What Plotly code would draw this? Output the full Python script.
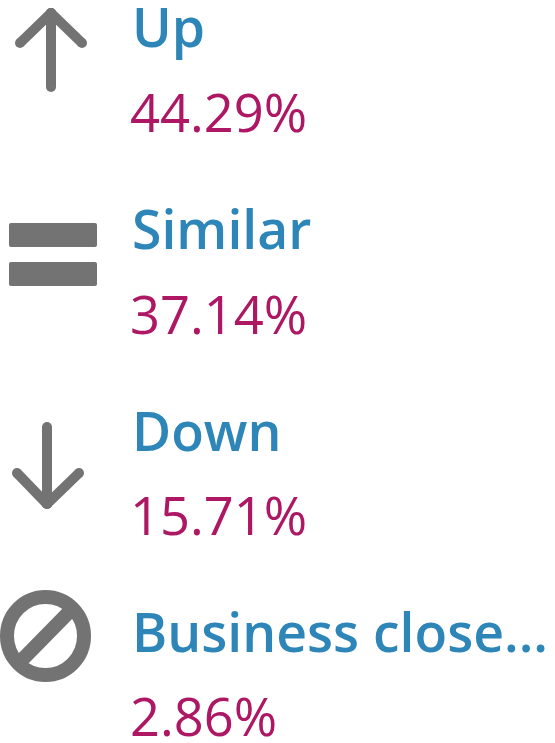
import plotly.graph_objects as go

categories = ["Up", "Similar", "Down", "Business close..."]
percent_values = [44.29, 37.14, 15.71, 2.86]
percent_labels = ["44.29%", "37.14%", "15.71%", "2.86%"]
label_y = [34, 236, 438, 639]
value_y = [119, 321, 522, 723]

W, H = 555, 743
FONT = "Open Sans"
BLUE = "#2e86b8"
PINK = "#ad1763"
GREY = "#737373"

fig = go.Figure()
fig.add_trace(go.Scatter(
    x=[132] * 4, y=label_y, mode="text", text=categories,
    textposition="middle right",
    textfont=dict(family=FONT, size=53.5, color=BLUE, weight=600),
    hoverinfo="skip", showlegend=False, cliponaxis=False))
fig.add_trace(go.Scatter(
    x=[130] * 4, y=value_y, mode="text", text=percent_labels,
    textposition="middle right", textfont=dict(family=FONT, size=52.5, color=PINK),
    customdata=percent_values, hoverinfo="skip", showlegend=False, cliponaxis=False))

shapes = []
def line(x0, y0, x1, y1, w=10):
    shapes.append(dict(type="line", x0=x0, y0=y0, x1=x1, y1=y1,
                       line=dict(color=GREY, width=w)))
    r = w / 2
    for cx, cy in [(x0, y0), (x1, y1)]:
        shapes.append(dict(type="circle", x0=cx - r, x1=cx + r, y0=cy - r, y1=cy + r,
                           fillcolor=GREY, line=dict(width=0)))
def rounded_bar(x0, x1, y0, y1, r=2):
    path = (f"M{x0+r},{y0} L{x1-r},{y0} Q{x1},{y0} {x1},{y0+r} L{x1},{y1-r} Q{x1},{y1} {x1-r},{y1} "
            f"L{x0+r},{y1} Q{x0},{y1} {x0},{y1-r} L{x0},{y0+r} Q{x0},{y0} {x0+r},{y0} Z")
    shapes.append(dict(type="path", path=path, fillcolor=GREY, line=dict(width=0)))
# up arrow
line(51, 13, 51, 87); line(20, 43, 51, 13); line(82, 43, 51, 13)
# equals
rounded_bar(9, 97, 223, 247)
rounded_bar(9, 97, 262, 286)
# down arrow
line(47, 427, 47, 504); line(17, 473, 47, 504); line(79, 473, 47, 504)
# prohibited
shapes.append(dict(type="circle", x0=7, x1=84, y0=597, y1=675, fillcolor="rgba(0,0,0,0)",
                   line=dict(color=GREY, width=14)))
shapes.append(dict(type="line", x0=19, y0=663, x1=72, y1=609, line=dict(color=GREY, width=14)))

fig.update_layout(
    width=W, height=H, margin=dict(l=0, r=0, t=0, b=0),
    paper_bgcolor="white", plot_bgcolor="white", shapes=shapes,
    xaxis=dict(range=[0, W], visible=False, fixedrange=True),
    yaxis=dict(range=[H, 0], visible=False, fixedrange=True))
fig.write_html("out.html", config=dict(displayModeBar=False),
               post_script="document.body.style.margin='0';document.documentElement.style.overflow='hidden';")
